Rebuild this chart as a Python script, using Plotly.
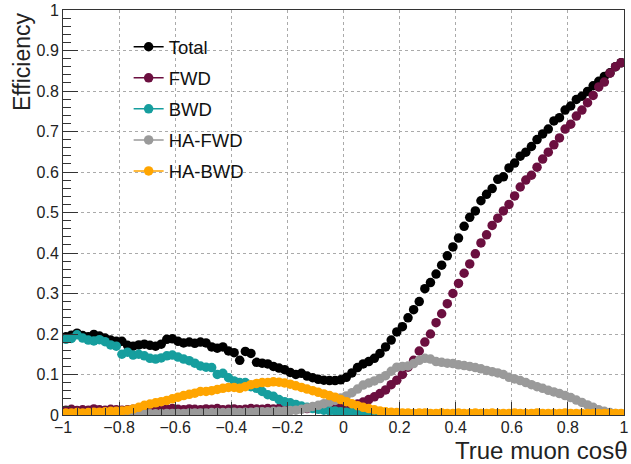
import plotly.graph_objects as go

# bin centres of cos(theta): -0.99 ... 0.99 (width 0.02)
cos_theta = [round(-0.99 + 0.02 * i, 2) for i in range(100)]

total = [
    0.193, 0.197, 0.202, 0.196, 0.193, 0.199, 0.195, 0.190, 0.185, 0.182,
    0.182, 0.172, 0.170, 0.173, 0.175, 0.172, 0.170, 0.175, 0.187, 0.188,
    0.182, 0.178, 0.180, 0.177, 0.180, 0.178, 0.168, 0.165, 0.168, 0.158,
    0.154, 0.135, 0.157, 0.152, 0.130, 0.128, 0.126, 0.120, 0.116, 0.112,
    0.105, 0.100, 0.103, 0.096, 0.092, 0.088, 0.086, 0.085, 0.085, 0.087,
    0.093, 0.104, 0.117, 0.126, 0.132, 0.140, 0.152, 0.168, 0.185, 0.205,
    0.218, 0.240, 0.260, 0.280, 0.312, 0.327, 0.348, 0.370, 0.393, 0.415,
    0.437, 0.466, 0.488, 0.504, 0.529, 0.545, 0.559, 0.582, 0.588, 0.610,
    0.622, 0.639, 0.649, 0.663, 0.680, 0.694, 0.706, 0.726, 0.734, 0.753,
    0.763, 0.779, 0.787, 0.799, 0.813, 0.824, 0.836, 0.845, 0.860, 0.870,
]

fwd = [
    0.012, 0.014, 0.011, 0.013, 0.012, 0.015, 0.013, 0.012, 0.014, 0.013,
    0.012, 0.013, 0.014, 0.012, 0.013, 0.015, 0.014, 0.013, 0.015, 0.016,
    0.014, 0.013, 0.015, 0.014, 0.013, 0.015, 0.014, 0.016, 0.013, 0.014,
    0.015, 0.013, 0.014, 0.016, 0.015, 0.014, 0.016, 0.015, 0.016, 0.017,
    0.016, 0.015, 0.017, 0.016, 0.018, 0.017, 0.018, 0.019, 0.019, 0.020,
    0.020, 0.023, 0.027, 0.032, 0.038, 0.045, 0.053, 0.062, 0.075, 0.086,
    0.100, 0.118, 0.135, 0.158, 0.180, 0.200, 0.228, 0.250, 0.275, 0.300,
    0.325, 0.350, 0.373, 0.398, 0.425, 0.445, 0.468, 0.486, 0.504, 0.520,
    0.541, 0.563, 0.580, 0.592, 0.612, 0.632, 0.649, 0.667, 0.684, 0.706,
    0.718, 0.738, 0.753, 0.771, 0.789, 0.810, 0.822, 0.844, 0.860, 0.870,
]

bwd = [
    0.187, 0.189, 0.198, 0.190, 0.185, 0.183, 0.186, 0.181, 0.173, 0.170,
    0.150, 0.155, 0.148, 0.150, 0.146, 0.140, 0.138, 0.141, 0.146, 0.148,
    0.143, 0.138, 0.134, 0.128, 0.121, 0.118, 0.117, 0.100, 0.103, 0.092,
    0.084, 0.080, 0.080, 0.070, 0.066, 0.058, 0.050, 0.046, 0.038, 0.033,
    0.030, 0.026, 0.022, 0.019, 0.016, 0.014, 0.012, 0.011, 0.010, 0.008,
    0.007, 0.006, 0.005, 0.004, 0.003, 0.003, 0.002, 0.002, 0.001, 0.001,
    0.001, 0.001, 0.000, 0.000, 0.000, 0.000, 0.000, 0.000, 0.000, 0.000,
    0.000, 0.000, 0.000, 0.000, 0.000, 0.000, 0.000, 0.000, 0.000, 0.000,
    0.000, 0.000, 0.000, 0.000, 0.000, 0.000, 0.000, 0.000, 0.000, 0.000,
    0.000, 0.000, 0.000, 0.000, 0.000, 0.000, 0.000, 0.000, 0.000, 0.000,
]

ha_fwd = [
    0.001, 0.001, 0.001, 0.002, 0.001, 0.002, 0.002, 0.002, 0.002, 0.002,
    0.002, 0.003, 0.003, 0.002, 0.003, 0.003, 0.003, 0.003, 0.004, 0.004,
    0.004, 0.004, 0.005, 0.005, 0.005, 0.005, 0.006, 0.006, 0.006, 0.006,
    0.007, 0.006, 0.007, 0.007, 0.008, 0.008, 0.008, 0.009, 0.009, 0.010,
    0.011, 0.012, 0.014, 0.017, 0.021, 0.024, 0.028, 0.032, 0.036, 0.042,
    0.047, 0.055, 0.064, 0.074, 0.079, 0.084, 0.090, 0.097, 0.108, 0.118,
    0.120, 0.121, 0.127, 0.135, 0.140, 0.138, 0.132, 0.130, 0.128, 0.127,
    0.124, 0.122, 0.120, 0.117, 0.114, 0.110, 0.107, 0.104, 0.100, 0.093,
    0.089, 0.085, 0.080, 0.075, 0.070, 0.066, 0.061, 0.057, 0.053, 0.048,
    0.043, 0.037, 0.031, 0.025, 0.019, 0.013, 0.009, 0.006, 0.004, 0.003,
]

ha_bwd = [
    0.005, 0.005, 0.006, 0.005, 0.006, 0.007, 0.007, 0.008, 0.009, 0.009,
    0.010, 0.012, 0.015, 0.019, 0.024, 0.027, 0.030, 0.033, 0.036, 0.040,
    0.044, 0.048, 0.051, 0.054, 0.058, 0.058, 0.060, 0.063, 0.066, 0.068,
    0.068, 0.066, 0.070, 0.075, 0.078, 0.080, 0.080, 0.082, 0.081, 0.079,
    0.076, 0.072, 0.068, 0.064, 0.060, 0.056, 0.052, 0.048, 0.044, 0.038,
    0.033, 0.028, 0.023, 0.019, 0.016, 0.013, 0.010, 0.008, 0.007, 0.006,
    0.005, 0.005, 0.004, 0.005, 0.005, 0.004, 0.004, 0.005, 0.004, 0.004,
    0.005, 0.004, 0.004, 0.005, 0.004, 0.004, 0.005, 0.004, 0.004, 0.004,
    0.005, 0.004, 0.004, 0.004, 0.005, 0.004, 0.004, 0.004, 0.004, 0.005,
    0.004, 0.004, 0.004, 0.004, 0.004, 0.004, 0.004, 0.004, 0.004, 0.004,
]

series_names = ["Total", "FWD", "BWD", "HA-FWD", "HA-BWD"]
series_values = [total, fwd, bwd, ha_fwd, ha_bwd]
series_colors = ["#000000", "#6b0f3f", "#169e9e", "#9a9a9a", "#ffa500"]

x_tickvals = [-1, -0.8, -0.6, -0.4, -0.2, 0, 0.2, 0.4, 0.6, 0.8, 1]
x_ticktext = ["\u22121", "\u22120.8", "\u22120.6", "\u22120.4", "\u22120.2", "0",
              "0.2", "0.4", "0.6", "0.8", "1"]
y_tickvals = [0, 0.1, 0.2, 0.3, 0.4, 0.5, 0.6, 0.7, 0.8, 0.9, 1]
y_ticktext = ["0", "0.1", "0.2", "0.3", "0.4", "0.5", "0.6", "0.7", "0.8", "0.9", "1"]

FONT = "Liberation Sans, Arial, Helvetica, sans-serif"

fig = go.Figure()
for name, vals, col in zip(series_names, series_values, series_colors):
    fig.add_trace(go.Scatter(
        x=cos_theta, y=vals, mode="markers", name=name, showlegend=False,
        marker=dict(symbol="circle", size=9.5, color=col, line=dict(width=0)),
    ))
# legend entries (ROOT "lep" style: marker with line)
for name, col in zip(series_names, series_colors):
    fig.add_trace(go.Scatter(
        x=[None], y=[None], mode="lines+markers", name=name, legendgroup=name,
        marker=dict(symbol="circle", size=9.5, color=col),
        line=dict(color=col, width=1.5),
    ))

fig.update_layout(
    width=631, height=464,
    margin=dict(l=63, r=2, t=7, b=49),
    paper_bgcolor="white", plot_bgcolor="white",
    font=dict(family=FONT, size=16, color="#222222"),
    legend=dict(
        x=0.117, y=0.955, xanchor="left", yanchor="top",
        bgcolor="rgba(255,255,255,0)", borderwidth=0,
        font=dict(family=FONT, size=18.5, color="#111111"),
        tracegroupgap=4, itemwidth=30,
    ),
    xaxis=dict(
        range=[-1, 1], tickvals=x_tickvals, ticktext=x_ticktext,
        ticks="inside", ticklen=13, tickcolor="#333333", tickwidth=1,
        showline=True, linecolor="#333333", linewidth=1, mirror=True,
        showgrid=True, gridcolor="#aaaaaa", griddash="dot", gridwidth=1,
        zeroline=False, ticklabeloverflow="allow", ticklabelstandoff=-2,
        minor=dict(dtick=0.05, ticks="inside", ticklen=7, tickcolor="#333333", showgrid=False),
        tickfont=dict(size=16),
    ),
    yaxis=dict(
        range=[0, 1], tickvals=y_tickvals, ticktext=y_ticktext,
        ticks="inside", ticklen=15, tickcolor="#333333", tickwidth=1,
        showline=True, linecolor="#333333", linewidth=1, mirror=True,
        showgrid=True, gridcolor="#aaaaaa", griddash="dot", gridwidth=1,
        zeroline=False, ticklabeloverflow="allow", ticklabelstandoff=0,
        minor=dict(dtick=0.02, ticks="inside", ticklen=8, tickcolor="#333333", showgrid=False),
        tickfont=dict(size=16),
    ),
    annotations=[
        dict(text="True muon cos\u03b8", xref="paper", yref="paper", x=1.0, y=-0.05,
             xanchor="right", yanchor="top", xshift=6, showarrow=False,
             font=dict(family=FONT, size=24, color="#222222")),
        dict(text="Efficiency", xref="paper", yref="paper", x=-0.074, y=1.0,
             xanchor="center", yanchor="top", textangle=-90, showarrow=False,
             font=dict(family=FONT, size=23, color="#222222")),
    ],
)

fig.write_html("out.html")
